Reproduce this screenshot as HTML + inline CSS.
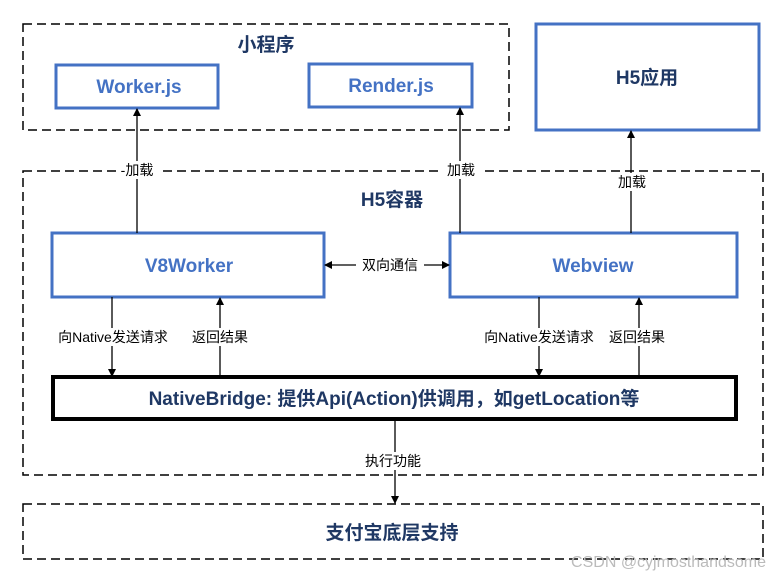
<!DOCTYPE html>
<html><head><meta charset="utf-8"><style>
body{margin:0;background:#fff}
svg{display:block}
text{font-family:"Liberation Sans","Noto Sans CJK SC",sans-serif}
.b{font-weight:bold;font-size:19px;fill:#4472c4}
.t{font-weight:bold;font-size:19px;fill:#1f3864}
.l{font-size:14px;fill:#000}
</style></head><body>
<svg width="779" height="580" viewBox="0 0 779 580">
<defs><marker id="a" markerWidth="8" markerHeight="8" refX="7" refY="4" orient="auto" markerUnits="userSpaceOnUse"><path d="M0,0 L8,4 L0,8z" fill="#000"/></marker></defs>
<g fill="none" stroke="#000" stroke-width="1.5" stroke-dasharray="9,5">
<rect x="23" y="24" width="486" height="106"/>
<rect x="23" y="171" width="740" height="304"/>
<rect x="23" y="504" width="740" height="55"/>
</g>
<g fill="#fff" stroke="#4472c4" stroke-width="3">
<rect x="536" y="24" width="223" height="106"/>
<rect x="56" y="65" width="162" height="43"/>
<rect x="309" y="64" width="163" height="43"/>
<rect x="52" y="233" width="272" height="64"/>
<rect x="450" y="233" width="287" height="64"/>
</g>
<rect x="53" y="377" width="683" height="42" fill="#fff" stroke="#000" stroke-width="4"/>
<g stroke="#000" stroke-width="1.3" marker-end="url(#a)">
<line x1="137" y1="233" x2="137" y2="109"/>
<line x1="460" y1="233" x2="460" y2="108"/>
<line x1="631" y1="233" x2="631" y2="131"/>
<line x1="112" y1="297" x2="112" y2="376"/>
<line x1="220" y1="377" x2="220" y2="298"/>
<line x1="539" y1="297" x2="539" y2="376"/>
<line x1="639" y1="377" x2="639" y2="298"/>
<line x1="395" y1="419" x2="395" y2="503"/>
<line x1="356" y1="265" x2="325" y2="265"/>
<line x1="424" y1="265" x2="449" y2="265"/>
</g>
<g fill="#fff">
<rect x="116" y="161" width="42" height="18"/><rect x="440" y="161" width="42" height="18"/>
<rect x="612" y="173" width="40" height="18"/><rect x="50" y="328" width="126" height="18"/>
<rect x="184" y="328" width="70" height="18"/><rect x="476" y="328" width="126" height="18"/>
<rect x="602" y="328" width="70" height="18"/><rect x="358" y="452" width="72" height="18"/>
</g>
<text class="t" x="266" y="51" text-anchor="middle">小程序</text>
<text class="b" x="139" y="93" text-anchor="middle">Worker.js</text>
<text class="b" x="391" y="92" text-anchor="middle">Render.js</text>
<text class="t" x="647" y="84" text-anchor="middle">H5应用</text>
<text class="t" x="392" y="206" text-anchor="middle">H5容器</text>
<text class="b" x="189" y="272" text-anchor="middle">V8Worker</text>
<text class="b" x="593" y="272" text-anchor="middle">Webview</text>
<text class="t" x="394" y="405" text-anchor="middle">NativeBridge: 提供Api(Action)供调用，如getLocation等</text>
<text class="t" x="392" y="539" text-anchor="middle">支付宝底层支持</text>
<text class="l" x="137" y="175" text-anchor="middle">-加载</text>
<text class="l" x="461" y="175" text-anchor="middle">加载</text>
<text class="l" x="632" y="187" text-anchor="middle">加载</text>
<text class="l" x="390" y="270" text-anchor="middle">双向通信</text>
<text class="l" x="113" y="342" text-anchor="middle">向Native发送请求</text>
<text class="l" x="220" y="342" text-anchor="middle">返回结果</text>
<text class="l" x="539" y="342" text-anchor="middle">向Native发送请求</text>
<text class="l" x="637" y="342" text-anchor="middle">返回结果</text>
<text class="l" x="393" y="466" text-anchor="middle">执行功能</text>
<text x="766" y="567" text-anchor="end" font-size="16" fill="#bbb" font-family="Liberation Sans,sans-serif">CSDN @cyjmosthandsome</text>
</svg>
</body></html>
